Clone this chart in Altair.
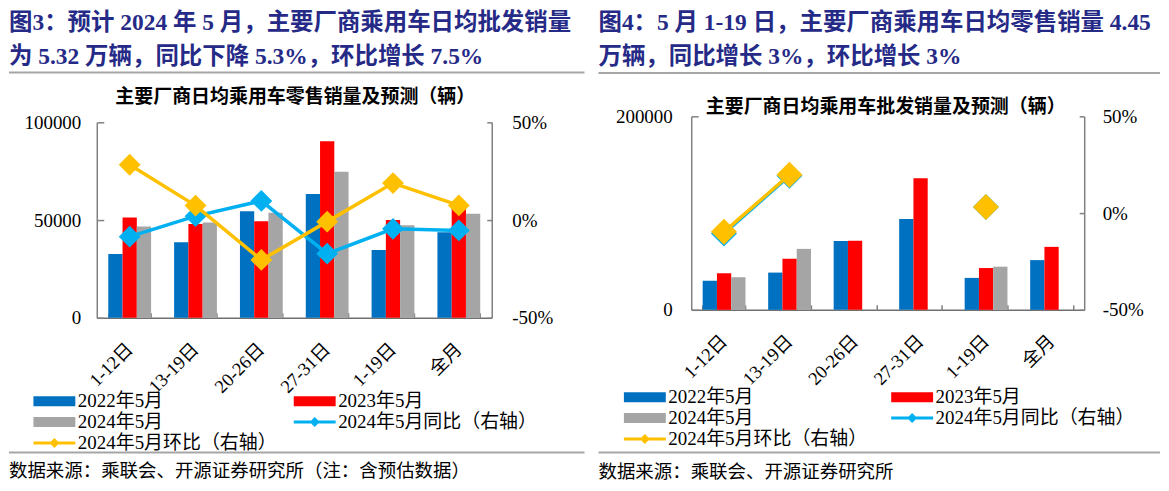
import altair as alt
import pandas as pd

# ---------------- data ----------------
categories = ["1-12日", "13-19日", "20-26日", "27-31日", "1-19日", "全月"]
bar_series = ["2022年5月", "2023年5月", "2024年5月"]
yoy_name = "2024年5月同比（右轴）"
mom_name = "2024年5月环比（右轴）"
# legend fills column by column: col1 = 2022 / 2024 / 环比, col2 = 2023 / 同比
legend_order = ["2022年5月", "2024年5月", mom_name, "2023年5月", yoy_name]
legend_colors = ["#0070C0", "#A5A5A5", "#FFC000", "#FF0000", "#00B0F0"]

# Left panel (图3)
left_2022 = [32700, 38700, 54500, 63300, 34700, 43800]
left_2023 = [51300, 48000, 49400, 90300, 50000, 56200]
left_2024 = [46700, 48700, 53800, 74700, 47400, 53200]
left_yoy = [-8.5, 2.0, 9.8, -17.2, -4.5, -5.3]
left_mom = [28.3, 7.4, -20.4, -0.8, 18.9, 7.5]

# Right panel (图4)
right_2022 = [30000, 38500, 71200, 94000, 33000, 51400]
right_2023 = [37800, 52800, 71500, 135900, 43200, 65100]
right_2024 = [33700, 63000, None, None, 44600, None]
right_yoy = [-10.5, 19.3, None, None, 3.2, None]
right_mom = [-9.7, 19.8, None, None, 3.1, None]

left_header = ["图3：预计 2024 年 5 月，主要厂商乘用车日均批发销量",
               "为 5.32 万辆，同比下降 5.3%，环比增长 7.5%"]
right_header = ["图4：5 月 1-19 日，主要厂商乘用车日均零售销量 4.45",
                "万辆，同比增长 3%，环比增长 3%"]
left_title = "主要厂商日均乘用车零售销量及预测（辆）"
right_title = "主要厂商日均乘用车批发销量及预测（辆）"
left_source = "数据来源：乘联会、开源证券研究所（注：含预估数据）"
right_source = "数据来源：乘联会、开源证券研究所"

FONT = "Liberation Serif, Noto Sans CJK SC"
NAVY = "#262A87"
AXIS_GRAY = "#808080"

RECT = "M-1,-1H7.4V1H-1Z"
LINE = "M-1,-0.3H7.4V0.3H-1Z M2.2,0L3.2,-1L4.2,0L3.2,1Z"
SYMBOL_EXPR = f"indexof(datum.value, '右轴') >= 0 ? '{LINE}' : '{RECT}'"

one = pd.DataFrame({"a": [0]})


def xscale():
    return alt.Scale(type="band", domain=categories,
                     paddingInner=0.35, paddingOuter=0.175)


def tick_axis(orient, offset, size, values=None, band=False):
    """Axis that only draws short inward ticks (labels and line off)."""
    kw = dict(orient=orient, offset=offset, labels=False, domain=False,
              ticks=True, tickSize=size, tickColor=AXIS_GRAY, tickWidth=1.5,
              grid=False, title=None)
    if values is not None:
        kw["values"] = values
    if band:
        kw["tickBand"] = "extent"
    return alt.Axis(**kw)


def panel(v22, v23, v24, yoy, mom, ymax, yvals, header, ctitle, source, W, H,
          geo, diamond):
    rows = []
    for s, vals in zip(bar_series, [v22, v23, v24]):
        for c, v in zip(categories, vals):
            rows.append({"cat": c, "series": s, "value": v})
    df_bar = pd.DataFrame(rows)
    df_line = pd.DataFrame({"cat": categories, "yoy": yoy, "mom": mom})

    xenc = alt.X("cat:N", sort=categories, scale=xscale(),
                 axis=alt.Axis(title=None, labelAngle=-45, labelAlign="right",
                               labelBaseline="middle", labelPadding=28,
                               ticks=False, labelFont=FONT, labelFontSize=18.5,
                               labelColor="black", domainColor="#707070",
                               domainWidth=1.5))
    xoff = alt.XOffset("series:N", sort=bar_series,
                       scale=alt.Scale(domain=bar_series))
    bars = alt.Chart(df_bar).mark_bar().encode(
        x=xenc,
        xOffset=xoff,
        y=alt.Y("value:Q", scale=alt.Scale(domain=[0, ymax]),
                axis=alt.Axis(title=None, values=yvals, format="d", grid=False,
                              ticks=False, labelPadding=geo["lpad"],
                              labelFont=FONT, labelFontSize=19,
                              labelColor="black",
                              domainColor=AXIS_GRAY, domainWidth=1.5)),
        color=alt.Color("series:N",
                        scale=alt.Scale(domain=legend_order, range=legend_colors),
                        legend=alt.Legend(
                            title=None, orient="none",
                            legendX=geo["legx"], legendY=geo["legy"],
                            columns=2, columnPadding=geo["colpad"],
                            rowPadding=1, padding=0,
                            symbolSize=100,
                            symbolType={"expr": SYMBOL_EXPR},
                            symbolStrokeWidth=0, symbolOpacity=1,
                            labelOffset=30, labelFont=FONT, labelFontSize=19,
                            labelColor="black", labelLimit=400)),
    )
    # invisible copy of the bars that only carries the inward ticks
    bar_ticks = alt.Chart(df_bar).mark_bar(opacity=0).encode(
        x=alt.X("cat:N", sort=categories, scale=xscale(),
                axis=tick_axis("top", -H, 5, band=True)),
        xOffset=xoff,
        y=alt.Y("value:Q", scale=alt.Scale(domain=[0, ymax]),
                axis=tick_axis("right", -W, 7, values=yvals)),
    )

    layers = [bars, bar_ticks]
    for field, color, show in [("yoy", "#00B0F0", True), ("mom", "#FFC000", False)]:
        base = alt.Chart(df_line)
        if show:
            ax = alt.Axis(title=None, orient="right", values=[-50, 0, 50],
                          labelExpr="datum.value + '%'", grid=False,
                          ticks=False, labelPadding=geo["rpad"], labelFont=FONT,
                          labelFontSize=19, labelColor="black",
                          domainColor=AXIS_GRAY, domainWidth=1.5)
        else:
            ax = tick_axis("left", -W, 5, values=[-50, 0, 50])
        layers.append(base.mark_line(color=color, strokeWidth=3.5).encode(
            x=alt.X("cat:N", sort=categories, scale=xscale(), axis=None),
            y=alt.Y(f"{field}:Q", scale=alt.Scale(domain=[-50, 50]), axis=ax)))
        layers.append(base.mark_point(shape="diamond", filled=True, color=color,
                                      size=diamond, opacity=1, strokeWidth=0).encode(
            x=alt.X("cat:N", sort=categories, scale=xscale(), axis=None),
            y=alt.Y(f"{field}:Q", scale=alt.Scale(domain=[-50, 50]), axis=None)))

    def text(t, x, y, size, weight="normal", color="black", align="left"):
        return alt.Chart(one).mark_text(
            align=align, baseline="middle", font=FONT, fontSize=size,
            fontWeight=weight, color=color).encode(
            x=alt.value(x), y=alt.value(y), text=alt.value(t))

    def rule(x1, x2, y):
        return alt.Chart(one).mark_rule(color="#A6A6A6", strokeWidth=2).encode(
            x=alt.value(x1), x2=alt.value(x2), y=alt.value(y))

    layers += [
        text(header[0], geo["left"], geo["h1"], 23.5, "bold", NAVY),
        text(header[1], geo["left"], geo["h1"] + 35, 23.5, "bold", NAVY),
        rule(geo["left"], geo["right"], geo["sep1"]),
        text(ctitle, geo["tx"], geo["ty"], 19, "bold", "black", "center"),
        rule(geo["left"], geo["right"], geo["sep2"]),
        text(source, geo["left"], geo["src"], 18.5),
    ]
    plot = alt.layer(*layers).resolve_scale(
        x="independent", y="independent").properties(width=W, height=H)
    # an empty 1px strip on top: both columns start at it, so the headers line up
    spacer = alt.Chart(one).mark_point(opacity=0, size=0).encode(
        x=alt.value(0), y=alt.value(0)).properties(width=1, height=1)
    return alt.vconcat(spacer, plot, spacing=0).resolve_scale(
        color="independent").resolve_legend(color="independent")


left = panel(left_2022, left_2023, left_2024, left_yoy, left_mom, 100000,
             [0, 50000, 100000], left_header, left_title, left_source, 396, 196,
             dict(legx=-68, legy=270, colpad=12, lpad=16, rpad=20, left=-88,
                  right=489, h1=-100, sep1=-50, tx=199, ty=-25, sep2=331,
                  src=350), 480)
right = panel(right_2022, right_2023, right_2024, right_yoy, right_mom, 200000,
              [0, 200000], right_header, right_title, right_source, 394, 194,
              dict(legx=-72, legy=272, colpad=19, lpad=19, rpad=18, left=-93,
                   right=470, h1=-94, sep1=-43.5, tx=195, ty=-9, sep2=337,
                   src=357), 680)

chart = alt.hconcat(left, right, spacing=12).resolve_scale(
    color="independent").resolve_legend(color="independent").properties(
    padding={"left": 0, "top": 1, "right": 0, "bottom": 0}
).configure_view(stroke=None)

chart.save("out.html", embed_options={"renderer": "svg", "actions": False})
